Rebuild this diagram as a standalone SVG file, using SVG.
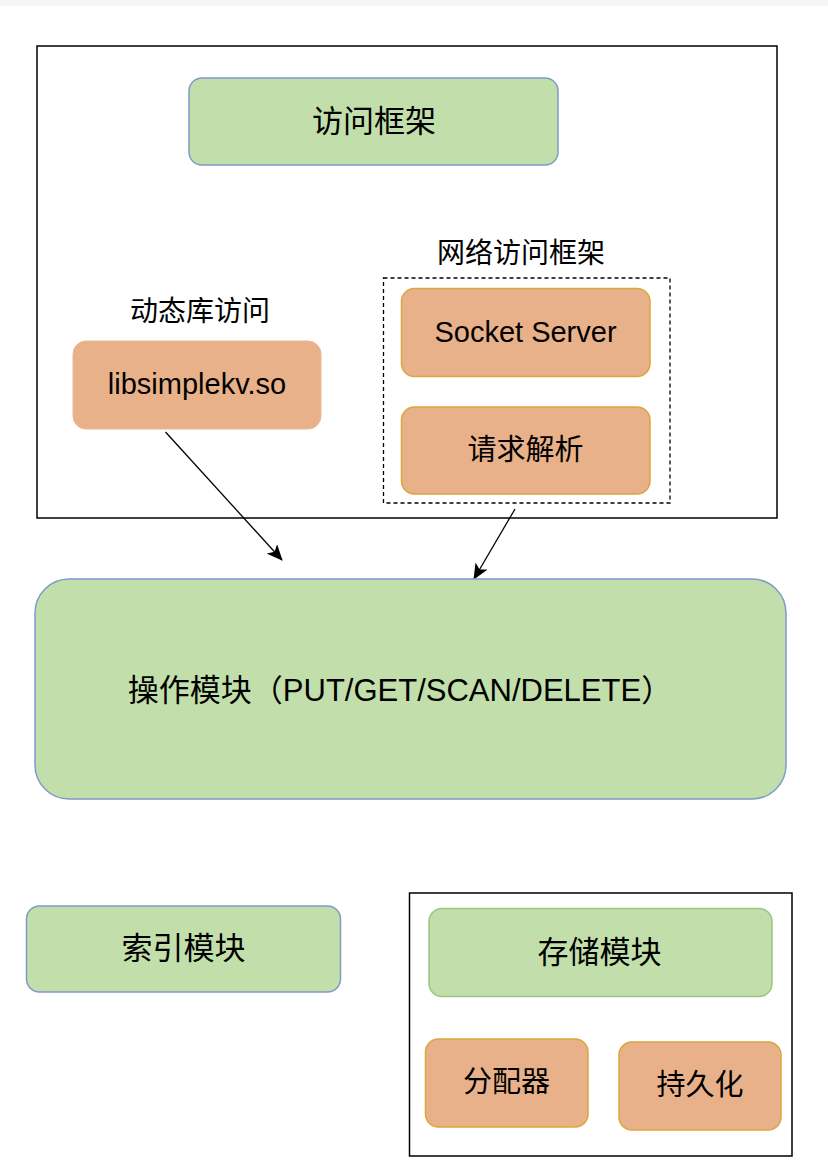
<svg xmlns="http://www.w3.org/2000/svg" width="828" height="1176" viewBox="0 0 828 1176">
<style>
text{font-family:"Liberation Sans","Noto Sans CJK SC",sans-serif;fill:#000;text-anchor:middle}
.g{fill:#c2dfab;stroke:#7f9bc6;stroke-width:1.5}
.gg{fill:#c2dfab;stroke:#9cc484;stroke-width:1.5}
.o{fill:#e9b189;stroke:#dba63e;stroke-width:1.5}
.frame{fill:none;stroke:#000;stroke-width:1.5}
.dash{fill:none;stroke:#000;stroke-width:1.3;stroke-dasharray:4 3}
.c{dominant-baseline:central}
.conn{stroke:#000;stroke-width:1.3;fill:none;marker-end:url(#arr)}
</style>
<defs>
<marker id="arr" markerUnits="userSpaceOnUse" markerWidth="16" markerHeight="14" viewBox="0 0 16 14" refX="15" refY="7" orient="auto">
<path d="M0,0 L16,7 L0,14 L4,7 z" fill="#000"/>
</marker>
</defs>
<rect x="0" y="0" width="828" height="1176" fill="#fff"/>
<rect x="0" y="0" width="828" height="6" fill="#f6f6f6"/>

<g id="access-frame">
<rect class="frame" x="37" y="46" width="740" height="472"/>
</g>
<g id="access-framework">
<rect class="g" x="189" y="78" width="369" height="87" rx="13"/>
<text class="c" x="374" y="121" font-size="31">访问框架</text>
</g>
<g id="net-access">
<text x="521" y="263" font-size="28">网络访问框架</text>
<rect class="dash" x="383.5" y="278" width="286.5" height="225"/>
</g>
<g id="socket-server">
<rect class="o" x="401.5" y="288.5" width="248.5" height="88" rx="13"/>
<text x="525.5" y="342" font-size="29">Socket Server</text>
</g>
<g id="request-parse">
<rect class="o" x="401.5" y="407" width="248.5" height="87" rx="13"/>
<text class="c" x="525.5" y="450" font-size="29">请求解析</text>
</g>
<g id="dynlib">
<text x="200" y="321" font-size="28">动态库访问</text>
</g>
<g id="libsimplekv">
<rect x="73" y="341" width="248" height="88" rx="13" fill="#e9b189" stroke="#ecb990" stroke-width="1"/>
<text x="197" y="394" font-size="29">libsimplekv.so</text>
</g>

<g id="connectors">
<line class="conn" x1="165.5" y1="432" x2="282" y2="560"/>
<line class="conn" x1="515" y1="509" x2="474" y2="579"/>
</g>

<g id="operation">
<rect class="g" x="35" y="579" width="751" height="220" rx="34"/>
<text x="400" y="701" font-size="31">操作模块（PUT/GET/SCAN/DELETE）</text>
</g>

<g id="index">
<rect class="g" x="26.5" y="906" width="314" height="86" rx="13"/>
<text class="c" x="183.5" y="948" font-size="31">索引模块</text>
</g>

<g id="storage-frame">
<rect class="frame" x="409.5" y="893" width="382.5" height="263"/>
</g>
<g id="storage">
<rect class="gg" x="429" y="908.5" width="343" height="88" rx="13"/>
<text class="c" x="599.5" y="952" font-size="31">存储模块</text>
</g>
<g id="allocator">
<rect class="o" x="425.5" y="1039" width="162.5" height="88" rx="13"/>
<text class="c" x="506.5" y="1082" font-size="29">分配器</text>
</g>
<g id="persistence">
<rect class="o" x="619" y="1042" width="162" height="88" rx="13"/>
<text class="c" x="700" y="1085" font-size="29">持久化</text>
</g>
</svg>
